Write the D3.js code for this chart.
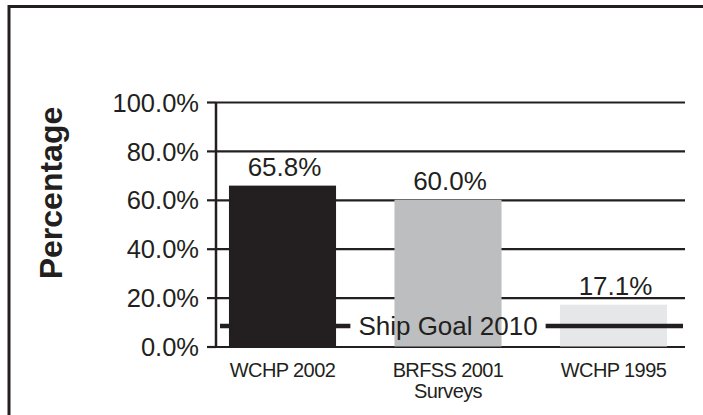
<!DOCTYPE html>
<html>
<head>
<meta charset="utf-8">
<script src="https://cdn.jsdelivr.net/npm/d3@7"></script>
<style>
  html, body { margin: 0; padding: 0; background: #fff; }
  svg { display: block; font-family: "Liberation Sans", Arial, sans-serif; }
</style>
</head>
<body>
<svg id="chart" width="703" height="415"></svg>
<script>
// ---- data ----
const categories = ["WCHP 2002", "BRFSS 2001\nSurveys", "WCHP 1995"];
const values = [65.8, 60.0, 17.1];
const valueLabels = ["65.8%", "60.0%", "17.1%"];
const barColors = ["#231f20", "#bcbec0", "#e6e7e8"];
const yTicks = [0, 20, 40, 60, 80, 100];
const yTickLabels = ["0.0%", "20.0%", "40.0%", "60.0%", "80.0%", "100.0%"];
const goalValue = 8.4;
const goalLabel = "Ship Goal 2010";
const yTitle = "Percentage";

// ---- layout ----
const ink = "#231f20";
const svg = d3.select("#chart");
const axisX = 216, gridEnd = 685;

// frame
svg.append("rect").attr("x", 9).attr("y", 6.5).attr("width", 720).attr("height", 430)
  .attr("fill", "none").attr("stroke", ink).attr("stroke-width", 3);

const y = d3.scaleLinear().domain([0, 100]).range([346.5, 102]);
const x = d3.scaleBand().domain(categories).range([199.75, 696.25])
  .paddingInner(0.353).paddingOuter(0.1765);

// gridlines + axis
const yAxis = d3.axisLeft(y).tickValues(yTicks)
  .tickFormat((d, i) => yTickLabels[i]).tickSize(9).tickPadding(8);
const gAxis = svg.append("g").attr("transform", `translate(${axisX},0)`).call(yAxis);
gAxis.select(".domain").attr("stroke", ink).attr("stroke-width", 2.5)
  .attr("d", `M0,${y(100)}V${y(0)}`);
gAxis.selectAll(".tick line").attr("stroke", ink).attr("stroke-width", 2.2);
gAxis.selectAll(".tick text").attr("fill", ink).style("font-size", "25.5px")
  .attr("dy", "0.36em");
gAxis.selectAll(".tick").append("line")
  .attr("x1", 0).attr("x2", gridEnd - axisX)
  .attr("stroke", ink).attr("stroke-width", 2.2);

// y title
svg.append("text")
  .attr("transform", `translate(61.5,193) rotate(-90)`)
  .attr("text-anchor", "middle")
  .attr("fill", ink).style("font-size", "32px").style("font-weight", "bold")
  .text(yTitle);

// bars
svg.append("g").selectAll("rect").data(categories).join("rect")
  .attr("x", d => x(d)).attr("width", x.bandwidth())
  .attr("y", (d, i) => y(values[i])).attr("height", (d, i) => y(0) - y(values[i]))
  .attr("fill", (d, i) => barColors[i]);

// value labels
svg.append("g").selectAll("text").data(categories).join("text")
  .attr("x", d => x(d) + x.bandwidth() / 2 + 2)
  .attr("y", (d, i) => y(values[i]) - 10)
  .attr("text-anchor", "middle").attr("fill", ink).style("font-size", "26px")
  .text((d, i) => valueLabels[i]);

// x labels
const xl = svg.append("g").selectAll("text").data(categories).join("text")
  .attr("x", d => x(d) + x.bandwidth() / 2)
  .attr("y", 376.5)
  .attr("text-anchor", "middle").attr("fill", ink)
  .style("font-size", "20px").style("letter-spacing", "-0.6px");
xl.each(function(d) {
  const lines = d.split("\n");
  const t = d3.select(this);
  lines.forEach((ln, j) => {
    t.append("tspan").attr("x", x(d) + x.bandwidth() / 2).attr("dy", j === 0 ? 0 : 21.5).text(ln);
  });
});

// goal line with label
const gy = y(goalValue);
const labelX = x(categories[1]) + x.bandwidth() / 2;
const lbl = svg.append("text").attr("x", labelX).attr("y", gy).attr("dy", "0.36em")
  .attr("text-anchor", "middle").attr("fill", ink).style("font-size", "26px")
  .text(goalLabel);
const bb = lbl.node().getBBox();
const gap = 8;
const segs = [[axisX + 4, bb.x - gap], [bb.x + bb.width + gap, gridEnd - 2]];
svg.append("g").selectAll("line").data(segs).join("line")
  .attr("x1", d => d[0]).attr("x2", d => d[1])
  .attr("y1", gy).attr("y2", gy)
  .attr("stroke", ink).attr("stroke-width", 4.5);
lbl.raise();
</script>
</body>
</html>
